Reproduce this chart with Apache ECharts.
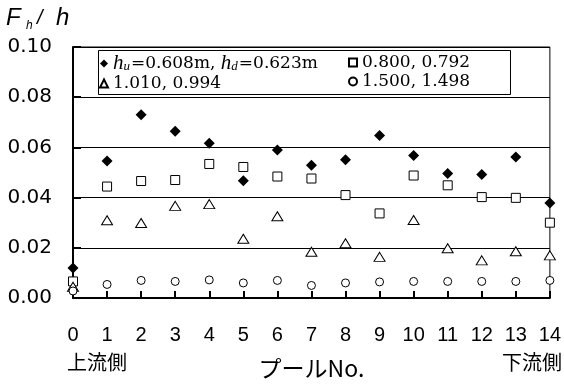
<!DOCTYPE html>
<html>
<head>
<meta charset="utf-8">
<script src="https://cdn.jsdelivr.net/npm/echarts@6/dist/echarts.min.js"></script>
<style>html,body{margin:0;padding:0;background:#fff;}#c{width:564px;height:385px;}</style>
</head>
<body>
<div id="c"></div>
<script>
var poolNo = [0,1,2,3,4,5,6,7,8,9,10,11,12,13,14];
var yTicks = [0, 0.02, 0.04, 0.06, 0.08, 0.10];
var s608 = [0.012, 0.0546, 0.073, 0.0664, 0.0617, 0.0467, 0.059, 0.0529, 0.0551, 0.0647, 0.0568, 0.0496, 0.0492, 0.0562, 0.0378];
var s800 = [0.0066, 0.0444, 0.0466, 0.047, 0.0534, 0.0522, 0.0484, 0.0476, 0.041, 0.0337, 0.0488, 0.0449, 0.0402, 0.0399, 0.030];
var s1010 = [0.0045, 0.031, 0.0299, 0.0367, 0.0374, 0.0236, 0.0326, 0.0184, 0.0218, 0.0164, 0.0311, 0.0198, 0.015, 0.0186, 0.017];
var s1500 = [0.0028, 0.0054, 0.007, 0.0066, 0.0072, 0.006, 0.007, 0.005, 0.006, 0.0064, 0.0066, 0.0066, 0.0066, 0.0066, 0.007];
var legendLabels = {
  s608: '{i|h}{sub|u}{n|=0.608m, }{i|h}{sub|d}{n|=0.623m}',
  s800: '{n|0.800, 0.792}',
  s1010: '{n|1.010, 0.994}',
  s1500: '{n|1.500, 1.498}'
};

function pts(arr){ return arr.map(function(v,i){ return [poolNo[i], v]; }); }

var chart = echarts.init(document.getElementById('c'), null, {renderer:'canvas'});
var serif = "'DejaVu Serif', serif";
var iserif = "'Liberation Serif', serif";
function legendText(){
  return {
    color: '#000',
    fontFamily: serif,
    fontSize: 17,
    lineHeight: 19,
    rich: {
      n: {fontFamily: serif, fontSize: 17, color:'#000'},
      i: {fontFamily: iserif, fontSize: 21, fontStyle: 'italic', color:'#000'},
      sub: {fontFamily: iserif, fontSize: 13, fontStyle: 'italic', color:'#000', verticalAlign:'bottom', padding:[6,1,0,0]}
    }
  };
}
var sans = "'Liberation Sans', Arial, sans-serif";
var option = {
  animation: false,
  backgroundColor: '#fff',
  grid: {left: 73, right: 11, top: 47, bottom: 84, containLabel: false, show: true, borderColor: '#000', borderWidth: 1},
  xAxis: {
    type: 'value', min: 0, max: 14, interval: 1,
    name: 'プールNo.', nameLocation: 'middle', nameGap: 59,
    nameTextStyle: {fontFamily: "'Noto Sans CJK JP'", fontSize: 23, color: '#000'},
    axisLine: {show: true, onZero: false, lineStyle: {color: '#000', width: 2}},
    axisTick: {show: true, inside: true, length: 7, lineStyle: {color: '#000', width: 2}},
    splitLine: {show: false},
    axisLabel: {margin: 27, color: '#000', fontSize: 20, fontFamily: "'Liberation Sans Narrow', 'Liberation Sans', Arial, sans-serif",
      formatter: function(v){ return String(poolNo[v]); }}
  },
  yAxis: {
    type: 'value', min: 0, max: 0.10, interval: 0.02,
    axisLine: {show: true, onZero: false, lineStyle: {color: '#000', width: 2}},
    axisTick: {show: true, inside: true, length: 8, lineStyle: {color: '#000', width: 2}},
    splitLine: {show: true, lineStyle: {color: '#000', width: 1}},
    axisLabel: {margin: 21, color: '#000', fontSize: 20, fontFamily: "'DejaVu Sans', sans-serif",
      formatter: function(v){ var t = yTicks.filter(function(y){return Math.abs(y-v)<1e-9;}); return (t.length?t[0]:v).toFixed(2); }}
  },
  legend: [
    {data: ['s608', 's1010'], orient: 'vertical', left: 99, top: 53, itemGap: 0, itemWidth: 8, itemHeight: 8, z: 20,
     formatter: function(n){ return legendLabels[n]; }, textStyle: legendText(), padding: 0},
    {data: ['s800', 's1500'], orient: 'vertical', left: 348, top: 53, itemGap: 0, itemWidth: 8, itemHeight: 8, z: 20,
     formatter: function(n){ return legendLabels[n]; }, textStyle: legendText(), padding: 0}
  ],
  graphic: [
    {type: 'rect', shape: {x: 98.5, y: 50.5, width: 412, height: 44}, style: {fill: '#fff', stroke: '#000', lineWidth: 1}, z: 1},
    {type: 'text', left: 6, top: 6, z: 10, style: {text: 'F', font: "italic 24px " + sans, fill: '#000'}},
    {type: 'text', left: 26, top: 20, z: 10, style: {text: 'h', font: "italic 12px " + sans, fill: '#000'}},
    {type: 'text', left: 37, top: 8, z: 10, style: {text: '/', font: "italic 20px " + sans, fill: '#000'}},
    {type: 'text', left: 56, top: 6, z: 10, style: {text: 'h', font: "italic 24px " + sans, fill: '#000'}},
    {type: 'text', left: 67, top: 352, z: 10, style: {text: '上流側', font: "20px 'Noto Sans CJK JP'", fill: '#000'}},
    {type: 'text', right: 2, top: 352, z: 10, style: {text: '下流側', font: "20px 'Noto Sans CJK JP'", fill: '#000'}}
  ],
  series: [
    {name: 's608', type: 'scatter', data: pts(s608), symbol: 'diamond', symbolSize: 11, clip: false, z: 4,
     itemStyle: {color: '#000', opacity: 1}},
    {name: 's800', type: 'scatter', data: pts(s800), symbol: 'rect', symbolSize: 9, clip: false, z: 3,
     itemStyle: {color: '#fff', borderColor: '#000', borderWidth: 1, opacity: 1}},
    {name: 's1010', type: 'scatter', data: pts(s1010), symbol: 'triangle', symbolSize: [11, 9], clip: false, z: 3,
     itemStyle: {color: '#fff', borderColor: '#000', borderWidth: 1, opacity: 1}},
    {name: 's1500', type: 'scatter', data: pts(s1500), symbol: 'circle', symbolSize: 8, clip: false, z: 3,
     itemStyle: {color: '#fff', borderColor: '#000', borderWidth: 1, opacity: 1}}
  ]
};
chart.setOption(option);
</script>
</body>
</html>
